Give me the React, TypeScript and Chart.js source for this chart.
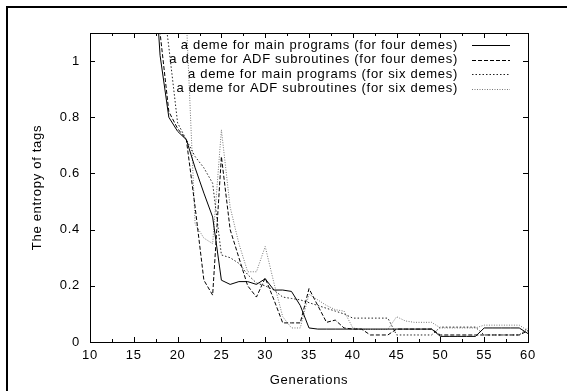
import React, { useEffect, useRef } from "react";
import { Chart, registerables } from "chart.js";

Chart.register(...registerables);

const GENERATIONS = [17, 18, 19, 20, 21, 22, 23, 24, 25, 26, 27, 28, 29, 30, 31, 32, 33, 34, 35, 36, 37, 38, 39, 40, 41, 42, 43, 44, 45, 46, 47, 48, 49, 50, 51, 52, 53, 54, 55, 56, 57, 58, 59, 60];

const MAIN_FOUR = [1.5, 1.02, 0.8, 0.75, 0.72, 0.62, 0.53, 0.445, 0.22, 0.205, 0.215, 0.215, 0.205, 0.225, 0.185, 0.185, 0.18, 0.13, 0.05, 0.046, 0.046, 0.046, 0.046, 0.046, 0.046, 0.046, 0.046, 0.046, 0.046, 0.046, 0.046, 0.046, 0.046, 0.02, 0.02, 0.02, 0.02, 0.02, 0.05, 0.05, 0.05, 0.05, 0.05, 0.03];
const ADF_FOUR = [1.6, 1.1, 0.82, 0.76, 0.72, 0.48, 0.22, 0.167, 0.66, 0.4, 0.3, 0.2, 0.16, 0.228, 0.15, 0.068, 0.068, 0.068, 0.19, 0.13, 0.07, 0.078, 0.05, 0.046, 0.046, 0.025, 0.025, 0.025, 0.046, 0.046, 0.046, 0.046, 0.046, 0.025, 0.025, 0.025, 0.025, 0.025, 0.025, 0.025, 0.025, 0.025, 0.025, 0.04];
const MAIN_SIX = [1.5, 1.3, 1.05, 0.78, 0.72, 0.66, 0.62, 0.565, 0.31, 0.3, 0.28, 0.24, 0.21, 0.2, 0.185, 0.16, 0.155, 0.15, 0.14, 0.13, 0.12, 0.11, 0.1, 0.085, 0.085, 0.085, 0.085, 0.085, 0.025, 0.025, 0.025, 0.025, 0.025, 0.053, 0.053, 0.053, 0.053, 0.053, 0.025, 0.025, 0.025, 0.025, 0.025, 0.05];
const ADF_SIX = [1.6, 1.45, 1.35, 1.25, 1.15, 0.42, 0.37, 0.35, 0.755, 0.48, 0.35, 0.25, 0.25, 0.34, 0.21, 0.09, 0.05, 0.05, 0.17, 0.15, 0.13, 0.115, 0.11, 0.05, 0.045, 0.045, 0.045, 0.045, 0.09, 0.075, 0.07, 0.07, 0.07, 0.05, 0.05, 0.05, 0.05, 0.05, 0.06, 0.06, 0.06, 0.06, 0.06, 0.04];

const SERIES_LABELS = [
  "a deme for main programs (for four demes)",
  "a deme for ADF subroutines (for four demes)",
  "a deme for main programs (for six demes)",
  "a deme for ADF subroutines (for six demes)",
];

const X_TICKS = [10, 15, 20, 25, 30, 35, 40, 45, 50, 55, 60];
const Y_TICKS = [0, 0.2, 0.4, 0.6, 0.8, 1];
const Y_TICK_LABELS = ["0", "0.2", "0.4", "0.6", "0.8", "1"];

const FONT = "'Liberation Sans', Arial, Helvetica, sans-serif";
const SPACING = "0.7px";

const STYLES = [
  { color: "#000000", dash: [] as number[] },
  { color: "#000000", dash: [4, 2] },
  { color: "#222222", dash: [1.5, 2] },
  { color: "#777777", dash: [1, 1.5] },
];

const toPoints = (vals: number[]) => GENERATIONS.map((g, i) => ({ x: g, y: vals[i] }));

const decorPlugin = {
  id: "decor",
  beforeInit(chart: any) {
    (chart.ctx as any).letterSpacing = SPACING;
  },
  beforeDraw(chart: any) {
    (chart.ctx as any).letterSpacing = SPACING;
  },
  afterDraw(chart: any) {
    const ctx = chart.ctx as CanvasRenderingContext2D;
    const { left, right, top, bottom } = chart.chartArea;
    const xs = chart.scales.x;
    const ys = chart.scales.y;
    ctx.save();
    ctx.strokeStyle = "#000";
    ctx.lineWidth = 1;
    ctx.setLineDash([]);
    ctx.beginPath();
    for (let v = 10; v <= 60.01; v += 2.5) {
      const px = Math.round(xs.getPixelForValue(v)) + 0.5;
      const len = Math.abs(v % 5) < 0.01 ? 5 : 3;
      ctx.moveTo(px, bottom);
      ctx.lineTo(px, bottom - len);
      ctx.moveTo(px, top);
      ctx.lineTo(px, top + len);
    }
    for (const v of Y_TICKS) {
      const py = Math.round(ys.getPixelForValue(v)) + 0.5;
      ctx.moveTo(left, py);
      ctx.lineTo(left + 5, py);
      ctx.moveTo(right, py);
      ctx.lineTo(right - 5, py);
    }
    ctx.stroke();
    ctx.strokeRect(Math.round(left) + 0.5, Math.round(top) + 0.5, Math.round(right - left), Math.round(bottom - top));

    const rows = [45, 59.5, 74, 88.5];
    (ctx as any).letterSpacing = SPACING;
    ctx.font = `13px ${FONT}`;
    ctx.textAlign = "right";
    ctx.textBaseline = "middle";
    ctx.fillStyle = "#000";
    SERIES_LABELS.forEach((lab, i) => {
      const y = rows[i];
      ctx.fillText(lab, 458, y);
      ctx.beginPath();
      ctx.strokeStyle = STYLES[i].color;
      ctx.setLineDash(STYLES[i].dash);
      ctx.moveTo(472, Math.round(y) + 0.5);
      ctx.lineTo(510, Math.round(y) + 0.5);
      ctx.stroke();
    });
    ctx.restore();
  },
};

export default function App() {
  const canvasRef = useRef<HTMLCanvasElement | null>(null);

  useEffect(() => {
    const canvas = canvasRef.current;
    if (!canvas) return;
    const ctx0 = canvas.getContext("2d") as any;
    if (ctx0) ctx0.letterSpacing = SPACING;
    const data = [MAIN_FOUR, ADF_FOUR, MAIN_SIX, ADF_SIX];
    const chart = new Chart(canvas, {
      type: "line",
      data: {
        datasets: data.map((vals, i) => ({
          label: SERIES_LABELS[i],
          data: toPoints(vals),
          borderColor: STYLES[i].color,
          borderDash: STYLES[i].dash,
          borderWidth: 1,
          pointRadius: 0,
          fill: false,
          tension: 0,
        })),
      },
      options: {
        animation: false,
        responsive: false,
        maintainAspectRatio: false,
        layout: { padding: { left: 0, top: 33, right: 39, bottom: 0 } },
        plugins: {
          legend: { display: false },
          tooltip: { enabled: false },
        },
        scales: {
          x: {
            type: "linear",
            min: 10,
            max: 60,
            afterFit: (s: any) => {
              s.height = 49;
            },
            afterBuildTicks: (s: any) => {
              s.ticks = X_TICKS.map((v) => ({ value: v }));
            },
            grid: { display: false, drawTicks: false },
            border: { display: false },
            ticks: {
              padding: 6,
              maxRotation: 0,
              autoSkip: false,
              color: "#000",
              font: { family: FONT, size: 13 },
            },
            title: {
              display: true,
              text: "Generations",
              color: "#000",
              font: { family: FONT, size: 13 },
              padding: { top: 0, bottom: 3 },
            },
          },
          y: {
            type: "linear",
            min: 0,
            max: 1.1,
            afterFit: (s: any) => {
              s.width = 90;
            },
            afterBuildTicks: (s: any) => {
              s.ticks = Y_TICKS.map((v) => ({ value: v }));
            },
            grid: { display: false, drawTicks: false },
            border: { display: false },
            ticks: {
              padding: 10,
              color: "#000",
              font: { family: FONT, size: 13 },
              callback: (v: any) => {
                const i = Y_TICKS.findIndex((t) => Math.abs(t - Number(v)) < 1e-6);
                return i >= 0 ? Y_TICK_LABELS[i] : "";
              },
            },
            title: {
              display: true,
              text: "The entropy of tags",
              color: "#000",
              font: { family: FONT, size: 13 },
              padding: { top: 30, bottom: 0 },
            },
          },
        },
      },
      plugins: [decorPlugin],
    });
    return () => chart.destroy();
  }, []);

  return (
    <div style={{ position: "fixed", left: 0, top: 0, width: 567, height: 391, background: "#fff", overflow: "hidden" }}>
      <div
        style={{
          position: "absolute",
          left: 6,
          top: 6,
          width: 600,
          height: 420,
          borderLeft: "2px solid #000",
          borderTop: "2px solid #000",
        }}
      />
      <canvas ref={canvasRef} width={567} height={391} style={{ position: "absolute", left: 0, top: 0, width: 567, height: 391 }} />
    </div>
  );
}
